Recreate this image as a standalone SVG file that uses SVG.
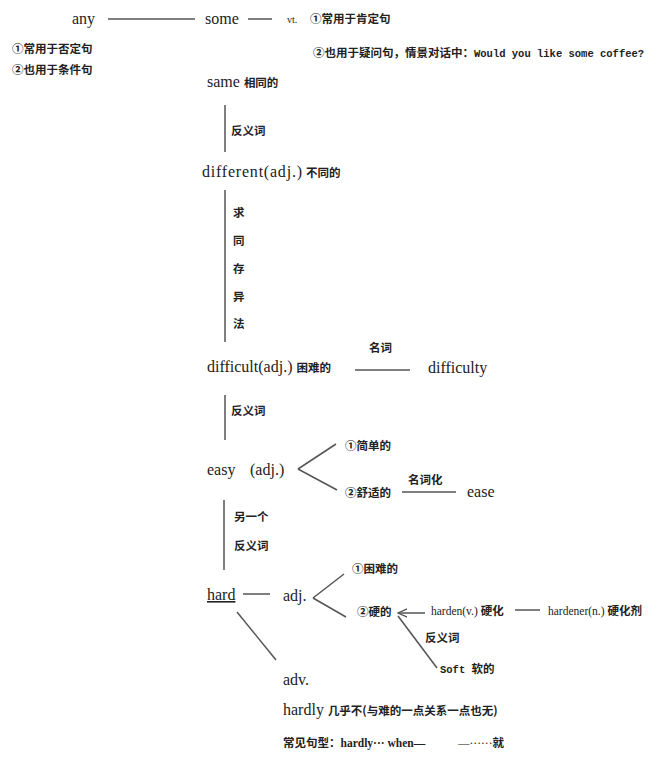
<svg xmlns="http://www.w3.org/2000/svg" width="667" height="757" viewBox="0 0 667 757">
<defs>
<style>
.en{font-family:"Liberation Serif","Times New Roman",serif;font-size:16px;fill:#222}
.ens{font-family:"Liberation Serif","Times New Roman",serif;font-size:11.5px;fill:#222}
.zh{font-family:"Noto Sans CJK SC","Noto Sans",sans-serif;font-size:11.5px;font-weight:bold;fill:#222}
.mono{font-family:"Liberation Mono","Courier New",monospace;font-size:10.5px;font-weight:bold;fill:#222}
.ln{stroke:#555;stroke-width:1.5;fill:none}
</style>
<marker id="arr" viewBox="0 0 10 10" refX="9" refY="5" markerWidth="7" markerHeight="7" orient="auto-start-reverse">
<path d="M0,1 L9,5 L0,9" fill="none" stroke="#555" stroke-width="1.2"/>
</marker>
</defs>
<rect width="667" height="757" fill="#fff"/>
<g id="connectors">
<line class="ln" x1="108" y1="19" x2="195" y2="19"/>
<line class="ln" x1="248" y1="19" x2="272" y2="19"/>
<line class="ln" x1="225" y1="105" x2="225" y2="152"/>
<line class="ln" x1="225" y1="190" x2="225" y2="342"/>
<line class="ln" x1="355" y1="370" x2="410" y2="370"/>
<line class="ln" x1="225" y1="395" x2="225" y2="440"/>
<line class="ln" x1="298" y1="469" x2="336" y2="444"/>
<line class="ln" x1="298" y1="469" x2="337" y2="490"/>
<line class="ln" x1="402" y1="492" x2="456" y2="492"/>
<line class="ln" x1="224" y1="500" x2="224" y2="570"/>
<line class="ln" x1="243" y1="594" x2="270" y2="594"/>
<line class="ln" x1="313" y1="598" x2="344" y2="574"/>
<line class="ln" x1="313" y1="598" x2="346" y2="617"/>
<line class="ln" x1="425" y1="613" x2="398" y2="613" marker-end="url(#arr)"/>
<line class="ln" x1="515" y1="610" x2="540" y2="610"/>
<line class="ln" x1="398" y1="616" x2="437" y2="668"/>
<line class="ln" x1="237" y1="612" x2="276" y2="660"/>
</g>
<g id="any"><text class="en" x="72" y="24">any</text></g>
<g id="any-notes">
<text class="zh" x="12" y="53">①常用于否定句</text>
<text class="zh" x="12" y="74">②也用于条件句</text>
</g>
<g id="some"><text class="en" x="205" y="24">some</text></g>
<g id="some-notes">
<text class="ens" x="287" y="23" style="font-size:10px">vt.</text>
<text class="zh" x="310" y="23">①常用于肯定句</text>
<text class="zh" x="313" y="57">②也用于疑问句，情景对话中：<tspan class="mono">Would you like some coffee?</tspan></text>
</g>
<g id="same"><text class="en" x="207" y="87">same <tspan class="zh">相同的</tspan></text></g>
<g id="lbl1"><text class="zh" x="231" y="135">反义词</text></g>
<g id="different"><text class="en" x="202" y="177" textLength="100" lengthAdjust="spacing">different(adj.)</text><text class="zh" x="306" y="177">不同的</text></g>
<g id="lbl2">
<text class="zh" x="233" y="217">求</text>
<text class="zh" x="233" y="245">同</text>
<text class="zh" x="233" y="273">存</text>
<text class="zh" x="233" y="301">异</text>
<text class="zh" x="233" y="328">法</text>
</g>
<g id="difficult"><text class="en" x="207" y="372">difficult(adj.) <tspan class="zh">困难的</tspan></text></g>
<g id="lbl3"><text class="zh" x="369" y="352">名词</text></g>
<g id="difficulty"><text class="en" x="428" y="373">difficulty</text></g>
<g id="lbl4"><text class="zh" x="231" y="415">反义词</text></g>
<g id="easy"><text class="en" x="207" y="475">easy</text><text class="en" x="250" y="475">(adj.)</text></g>
<g id="easy1"><text class="zh" x="345" y="450">①简单的</text></g>
<g id="easy2"><text class="zh" x="345" y="497">②舒适的</text></g>
<g id="lbl5"><text class="zh" x="408" y="484">名词化</text></g>
<g id="ease"><text class="en" x="467" y="497">ease</text></g>
<g id="lbl6">
<text class="zh" x="234" y="521">另一个</text>
<text class="zh" x="234" y="550">反义词</text>
</g>
<g id="hard"><text class="en" x="207" y="600" text-decoration="underline">hard</text></g>
<g id="adj"><text class="en" x="283" y="601">adj.</text></g>
<g id="hard1"><text class="zh" x="352" y="573">①困难的</text></g>
<g id="hard2"><text class="zh" x="357" y="616">②硬的</text></g>
<g id="harden"><text class="ens" x="431" y="615">harden(v.) <tspan class="zh">硬化</tspan></text></g>
<g id="hardener"><text class="ens" x="548" y="615">hardener(n.) <tspan class="zh">硬化剂</tspan></text></g>
<g id="lbl7"><text class="zh" x="425" y="642">反义词</text></g>
<g id="soft"><text class="mono" x="440" y="673">Soft <tspan class="zh">软的</tspan></text></g>
<g id="adv"><text class="en" x="283" y="685">adv.</text></g>
<g id="hardly"><text class="en" x="283" y="715">hardly <tspan class="zh">几乎不(与难的一点关系一点也无)</tspan></text></g>
<g id="pattern"><text class="zh" x="283" y="747">常见句型：<tspan class="ens">hardly··· when—</tspan></text><text class="ens" x="458" y="747">—······<tspan class="zh">就</tspan></text></g>
</svg>
